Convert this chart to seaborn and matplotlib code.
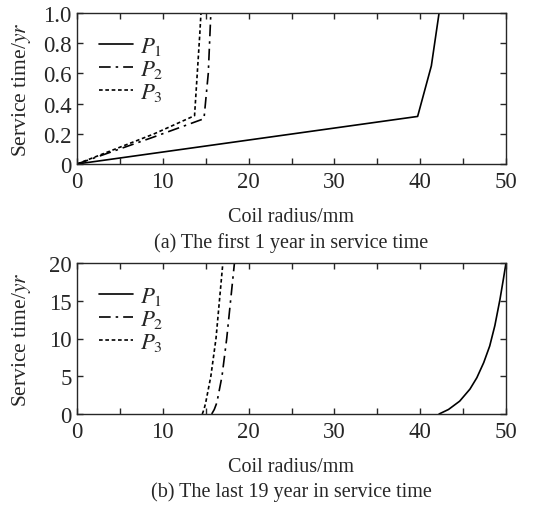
import matplotlib
matplotlib.use("Agg")
import matplotlib.pyplot as plt
import seaborn as sns
import pandas as pd
from matplotlib.ticker import MultipleLocator

# (a) first year: coil radius (mm) vs service time (yr)
p1_a_x = [0, 39.7, 41.3, 42.2]
p1_a_y = [0, 0.315, 0.65, 1.0]
p2_a_x = [0, 4.5, 9.0, 14.8, 15.3, 15.6]
p2_a_y = [0, 0.09, 0.18, 0.30, 0.60, 1.0]
p3_a_x = [0, 4.5, 9.0, 13.7, 14.3, 14.45]
p3_a_y = [0, 0.10, 0.20, 0.32, 0.85, 1.0]

# (b) last 19 years
p1_b_x = [42.2, 43.3, 44.6, 45.8, 46.6, 47.4, 48.1, 48.7, 49.3, 49.7, 50.0]
p1_b_y = [0, 0.6, 1.7, 3.3, 4.8, 6.8, 9.0, 11.7, 15.2, 17.9, 20.0]
p2_b_x = [15.7, 16.0, 16.3, 16.9, 17.45, 17.9, 18.35]
p2_b_y = [0, 0.6, 1.5, 5.0, 10.0, 15.0, 20.0]
p3_b_x = [14.6, 14.8, 15.0, 15.6, 16.2, 16.6, 17.0]
p3_b_y = [0, 0.6, 1.5, 5.0, 10.0, 15.0, 20.0]

labels = [r'$P_1$', r'$P_2$', r'$P_3$']
styles = ['-', (0, (7, 3, 1.5, 3)), (0, (2.2, 1.6))]

sns.set_style("ticks")
plt.rcParams['font.family'] = ['Liberation Serif', 'DejaVu Serif']
plt.rcParams['mathtext.fontset'] = 'stix'
plt.rcParams['xtick.direction'] = 'in'
plt.rcParams['ytick.direction'] = 'in'

fig = plt.figure(figsize=(5.55, 5.1), dpi=100)
ax1 = fig.add_axes([77/555, 1 - 165/510, 429/555, 151/510])
ax2 = fig.add_axes([77/555, 1 - 415/510, 429/555, 151/510])


def draw(ax, xs, ys, ymax, ystep):
    for x, y, lab, ls in zip(xs, ys, labels, styles):
        df = pd.DataFrame({'x': x, 'y': y})
        sns.lineplot(data=df, x='x', y='y', ax=ax, color='black', lw=1.2,
                     linestyle=ls, label=lab, sort=False, estimator=None)
    ax.set_xlim(0, 50)
    ax.set_ylim(0, ymax)
    ax.xaxis.set_major_locator(MultipleLocator(10))
    ax.xaxis.set_minor_locator(MultipleLocator(5))
    ax.yaxis.set_major_locator(MultipleLocator(ystep))
    ax.tick_params(which='both', top=True, right=True, length=4, width=1,
                   labelsize=16.5)
    ax.tick_params(axis='x', pad=5)
    ax.tick_params(axis='y', pad=4)
    for s in ax.spines.values():
        s.set_linewidth(1.0)
    ax.set_xlabel('Coil radius/mm', fontsize=14.5, labelpad=11)
    ax.set_ylabel('Service time/$\\mathit{yr}$', fontsize=15.5)
    ax.yaxis.set_label_coords(-0.103, 0.5)
    leg = ax.legend(loc='upper left', frameon=False, fontsize=16.5,
                    handlelength=1.5, handletextpad=0.3, labelspacing=0.05,
                    borderaxespad=0.7, borderpad=0.25)
    for h in leg.get_lines():
        h.set_linewidth(1.2)


draw(ax1, [p1_a_x, p2_a_x, p3_a_x], [p1_a_y, p2_a_y, p3_a_y], 1.0, 0.2)
ax1.set_yticks([0, 0.2, 0.4, 0.6, 0.8, 1.0])
ax1.set_yticklabels(['0', '0.2', '0.4', '0.6', '0.8', '1.0'])
draw(ax2, [p1_b_x, p2_b_x, p3_b_x], [p1_b_y, p2_b_y, p3_b_y], 20, 5)

fig.text(291/555, 1 - 243/510, '(a) The first 1 year in service time',
         ha='center', va='center', fontsize=14.5)
fig.text(291/555, 1 - 492/510, '(b) The last 19 year in service time',
         ha='center', va='center', fontsize=14.5)

fig.savefig('out.png', dpi=100)
